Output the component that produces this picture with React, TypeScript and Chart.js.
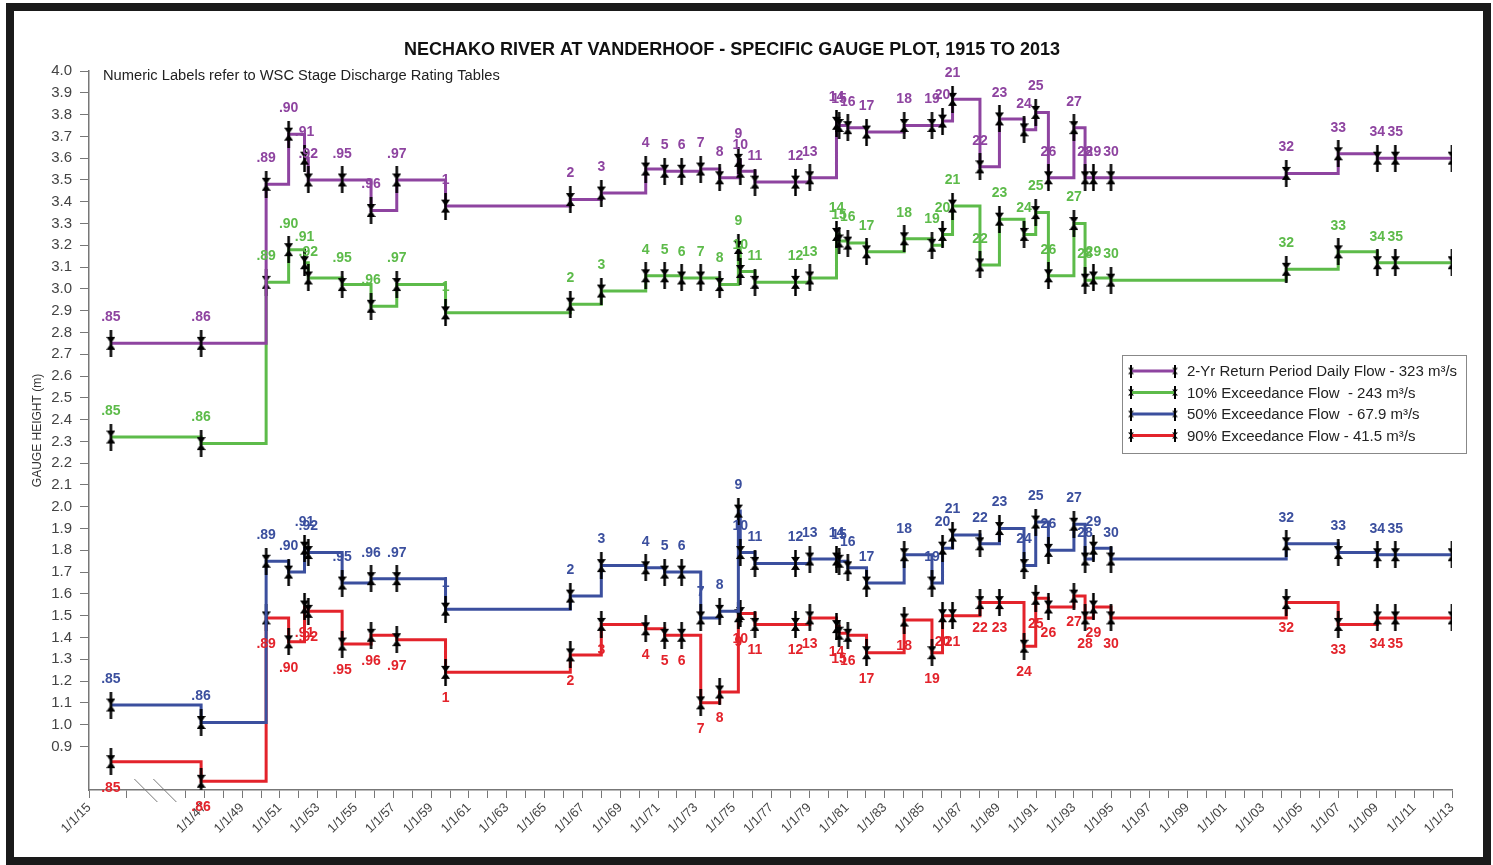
import React, { useEffect, useRef } from 'react';
import { Chart, registerables } from 'chart.js';

Chart.register(...registerables);

const chartTitle = 'NECHAKO RIVER AT VANDERHOOF - SPECIFIC GAUGE PLOT, 1915 TO 2013';
const noteText = 'Numeric Labels refer to WSC Stage Discharge Rating Tables';
const yAxisTitle = 'GAUGE HEIGHT (m)';

// WSC rating table numbers (point labels)
const ratingTables = [
  '.85', '.86', '.89', '.90', '.91', '.92', '.95', '.96', '.97', '1',
  '2', '3', '4', '5', '6', '7', '8', '9', '10', '11',
  '12', '13', '14', '15', '16', '17', '18', '19', '20', '21',
  '22', '23', '24', '25', '26', '27', '28', '29', '30', '32',
  '33', '34', '35', '',
];

// Date (decimal year) at which each rating table takes effect
const tableYears = [
  1916.16, 1946.83, 1950.27, 1951.46, 1952.3, 1952.5, 1954.29, 1955.82, 1957.18, 1959.76,
  1966.36, 1968.0, 1970.35, 1971.35, 1972.25, 1973.26, 1974.26, 1975.25, 1975.35, 1976.13,
  1978.27, 1979.03, 1980.44, 1980.58, 1981.04, 1982.03, 1984.02, 1985.49, 1986.05, 1986.58,
  1988.03, 1989.06, 1990.36, 1990.98, 1991.65, 1993.0, 1993.59, 1994.03, 1994.96, 2004.23,
  2006.98, 2009.05, 2010.0, 2013.0,
];

const twoYearFlow = [
  2.75, 2.75, 3.48, 3.71, 3.60, 3.50, 3.50, 3.36, 3.50, 3.38,
  3.41, 3.44, 3.55, 3.54, 3.54, 3.55, 3.51, 3.59, 3.54, 3.49,
  3.49, 3.51, 3.76, 3.75, 3.74, 3.72, 3.75, 3.75, 3.77, 3.87,
  3.56, 3.78, 3.73, 3.81, 3.51, 3.74, 3.51, 3.51, 3.51, 3.53,
  3.62, 3.60, 3.60, 3.60,
];

const exceed10Flow = [
  2.32, 2.29, 3.03, 3.18, 3.12, 3.05, 3.02, 2.92, 3.02, 2.89,
  2.93, 2.99, 3.06, 3.06, 3.05, 3.05, 3.02, 3.19, 3.08, 3.03,
  3.03, 3.05, 3.25, 3.22, 3.21, 3.17, 3.23, 3.20, 3.25, 3.38,
  3.11, 3.32, 3.25, 3.35, 3.06, 3.30, 3.04, 3.05, 3.04, 3.09,
  3.17, 3.12, 3.12, 3.12,
];

const exceed50Flow = [
  1.09, 1.01, 1.75, 1.70, 1.81, 1.79, 1.65, 1.67, 1.67, 1.53,
  1.59, 1.73, 1.72, 1.70, 1.70, 1.49, 1.52, 1.98, 1.79, 1.74,
  1.74, 1.76, 1.76, 1.75, 1.72, 1.65, 1.78, 1.65, 1.81, 1.87,
  1.83, 1.90, 1.73, 1.93, 1.80, 1.92, 1.76, 1.81, 1.76, 1.83,
  1.79, 1.78, 1.78, 1.78,
];

const exceed90Flow = [
  0.83, 0.74, 1.49, 1.38, 1.54, 1.52, 1.37, 1.41, 1.39, 1.24,
  1.32, 1.46, 1.44, 1.41, 1.41, 1.10, 1.15, 1.50, 1.51, 1.46,
  1.46, 1.49, 1.45, 1.42, 1.41, 1.33, 1.48, 1.33, 1.50, 1.50,
  1.56, 1.56, 1.36, 1.58, 1.54, 1.59, 1.49, 1.54, 1.49, 1.56,
  1.46, 1.49, 1.49, 1.49,
];

const seriesNames = [
  '2-Yr Return Period Daily Flow - 323 m\u00B3/s',
  '10% Exceedance Flow  - 243 m\u00B3/s',
  '50% Exceedance Flow  - 67.9 m\u00B3/s',
  '90% Exceedance Flow - 41.5 m\u00B3/s',
];
const seriesColors = ['#8E44A0', '#5DBB4A', '#3B4F9E', '#E3232B'];

// x-axis tick years: labelled and unlabelled
const labeledTickYears = [
  1915, 1947, 1949, 1951, 1953, 1955, 1957, 1959, 1961, 1963, 1965, 1967, 1969, 1971,
  1973, 1975, 1977, 1979, 1981, 1983, 1985, 1987, 1989, 1991, 1993, 1995, 1997, 1999,
  2001, 2003, 2005, 2007, 2009, 2011, 2013,
];
const minorTickYears = [
  1917, 1946, 1948, 1950, 1952, 1954, 1956, 1958, 1960, 1962, 1964, 1966, 1968, 1970,
  1972, 1974, 1976, 1978, 1980, 1982, 1984, 1986, 1988, 1990, 1992, 1994, 1996, 1998,
  2000, 2002, 2004, 2006, 2008, 2010, 2012,
];
const yTickValues = [
  0.7, 0.8, 0.9, 1.0, 1.1, 1.2, 1.3, 1.4, 1.5, 1.6, 1.7, 1.8, 1.9, 2.0, 2.1, 2.2, 2.3,
  2.4, 2.5, 2.6, 2.7, 2.8, 2.9, 3.0, 3.1, 3.2, 3.3, 3.4, 3.5, 3.6, 3.7, 3.8, 3.9, 4.0,
];
const yLabelMin = 0.9;

// broken time axis: years before the break are shifted next to 1946
const EARLY_SHIFT = 25.9;
const toAxis = (yr: number) => (yr < 1940 ? yr + EARLY_SHIFT : yr);
const FONT = '"Liberation Sans", Arial, sans-serif';

function makeMarker(w: number, h: number) {
  const c = document.createElement('canvas');
  c.width = w;
  c.height = h;
  const g = c.getContext('2d')!;
  const cx = w / 2;
  const cy = h / 2;
  g.strokeStyle = '#000';
  g.fillStyle = '#000';
  g.lineWidth = Math.max(2, w * 0.28);
  g.beginPath();
  g.moveTo(cx, 0);
  g.lineTo(cx, h);
  g.stroke();
  const tw = w / 2;
  const th = h * 0.24;
  g.beginPath();
  g.moveTo(cx - tw, cy - th);
  g.lineTo(cx + tw, cy - th);
  g.lineTo(cx, cy);
  g.closePath();
  g.fill();
  g.beginPath();
  g.moveTo(cx - tw, cy + th);
  g.lineTo(cx + tw, cy + th);
  g.lineTo(cx, cy);
  g.closePath();
  g.fill();
  return c;
}

export default function App() {
  const ref = useRef<HTMLCanvasElement>(null);

  useEffect(() => {
    const canvas = ref.current!;
    const marker = makeMarker(9, 27);
    const smallMarker = makeMarker(6, 13);
    const seriesValues = [twoYearFlow, exceed10Flow, exceed50Flow, exceed90Flow];

    const tickLabelMap = new Map<number, string>();
    labeledTickYears.forEach((yr) => {
      tickLabelMap.set(
        Math.round(toAxis(yr) * 100),
        '1/1/' + String(yr % 100).padStart(2, '0')
      );
    });
    const allTicks = [...labeledTickYears, ...minorTickYears]
      .map(toAxis)
      .sort((a, b) => a - b);

    const datasets = seriesValues.map((vals, i) => ({
      label: seriesNames[i],
      data: tableYears.map((yr, j) => ({ x: toAxis(yr), y: vals[j] })),
      borderColor: seriesColors[i],
      backgroundColor: seriesColors[i],
      borderWidth: 3,
      stepped: true as const,
      pointStyle: marker,
      pointRadius: 5,
      fill: false,
    }));

    const decor = {
      id: 'decor',
      afterDatasetsDraw(chart: any) {
        const ctx = chart.ctx as CanvasRenderingContext2D;
        ctx.save();
        ctx.font = `bold 14px ${FONT}`;
        ctx.textAlign = 'center';
        ctx.textBaseline = 'middle';
        chart.data.datasets.forEach((ds: any, i: number) => {
          const meta = chart.getDatasetMeta(i);
          ctx.fillStyle = seriesColors[i];
          meta.data.forEach((pt: any, j: number) => {
            const txt = ratingTables[j];
            if (!txt) return;
            const dy = i === 3 ? 26 : -26;
            ctx.fillText(txt, pt.x, pt.y + dy);
          });
        });
        ctx.restore();
      },
      afterDraw(chart: any) {
        const ctx = chart.ctx as CanvasRenderingContext2D;
        const xs = chart.scales.x;
        const area = chart.chartArea;
        ctx.save();
        // title
        ctx.fillStyle = '#111';
        ctx.font = `bold 18px ${FONT}`;
        ctx.textAlign = 'center';
        ctx.textBaseline = 'middle';
        ctx.fillText(chartTitle, 732, 50);
        // note
        ctx.font = `14.7px ${FONT}`;
        ctx.textAlign = 'left';
        ctx.fillStyle = '#222';
        ctx.fillText(noteText, 103, 76);
        // y title
        ctx.save();
        ctx.translate(38, (area.top + area.bottom) / 2);
        ctx.rotate(-Math.PI / 2);
        ctx.textAlign = 'center';
        ctx.font = `12px ${FONT}`;
        ctx.fillStyle = '#333';
        ctx.fillText(yAxisTitle, 0, 0);
        ctx.restore();
        // axis break marks
        ctx.strokeStyle = '#777';
        ctx.lineWidth = 1;
        const bx = xs.getPixelForValue(toAxis(1917.4));
        [0, 19].forEach((off) => {
          ctx.beginPath();
          ctx.moveTo(bx + off, area.bottom - 11);
          ctx.lineTo(bx + off + 23, area.bottom + 12);
          ctx.stroke();
        });
        // legend
        const lx = 1122;
        const ly = 355;
        ctx.fillStyle = '#fff';
        ctx.fillRect(lx, ly, 344, 98);
        ctx.strokeStyle = '#888';
        ctx.lineWidth = 1;
        ctx.strokeRect(lx + 0.5, ly + 0.5, 344, 98);
        ctx.font = `15px ${FONT}`;
        ctx.textBaseline = 'middle';
        ctx.textAlign = 'left';
        seriesNames.forEach((name, i) => {
          const y = ly + 16 + i * 21.5;
          ctx.strokeStyle = seriesColors[i];
          ctx.lineWidth = 3;
          ctx.beginPath();
          ctx.moveTo(lx + 9, y);
          ctx.lineTo(lx + 53, y);
          ctx.stroke();
          ctx.drawImage(smallMarker, lx + 9 - 3, y - 6.5);
          ctx.drawImage(smallMarker, lx + 53 - 3, y - 6.5);
          ctx.fillStyle = '#222';
          ctx.fillText(name, lx + 65, y + 1);
        });
        ctx.restore();
      },
    };

    const chart = new Chart(canvas, {
      type: 'line',
      data: { datasets },
      options: {
        animation: false,
        responsive: false,
        events: [],
        layout: { padding: { top: 71, left: 0, right: 41, bottom: 0 } },
        plugins: {
          legend: { display: false },
          tooltip: { enabled: false },
          title: { display: false },
        },
        scales: {
          x: {
            type: 'linear',
            min: toAxis(1915),
            max: 2013,
            afterBuildTicks: (s: any) => {
              s.ticks = allTicks.map((v) => ({ value: v }));
            },
            afterFit: (s: any) => {
              s.height = 75;
            },
            ticks: {
              autoSkip: false,
              minRotation: 45,
              maxRotation: 45,
              padding: 2,
              color: '#444',
              font: { family: FONT, size: 13 },
              callback: (v: any) => tickLabelMap.get(Math.round(Number(v) * 100)) || '',
            },
            grid: { drawOnChartArea: false, drawTicks: true, tickLength: 8, color: '#777' },
            border: { color: '#777', width: 1.5 },
          },
          y: {
            type: 'linear',
            min: 0.7,
            max: 4.0,
            afterBuildTicks: (s: any) => {
              s.ticks = yTickValues.map((v) => ({ value: v }));
            },
            afterFit: (s: any) => {
              s.width = 89;
            },
            ticks: {
              autoSkip: false,
              padding: 8,
              color: '#444',
              font: { family: FONT, size: 15 },
              callback: (v: any) => (Number(v) >= yLabelMin - 0.01 ? Number(v).toFixed(1) : ''),
            },
            grid: {
              drawOnChartArea: false,
              tickLength: 9,
              color: (c: any) =>
                c.tick && c.tick.value < yLabelMin - 0.01 ? 'rgba(0,0,0,0)' : '#777',
            },
            border: { color: '#777', width: 1.5 },
          },
        },
      },
      plugins: [decor],
    } as any);

    return () => chart.destroy();
  }, []);

  return (
    <div
      style={{
        position: 'absolute',
        left: 0,
        top: 0,
        width: 1493,
        height: 865,
        background: '#fff',
        overflow: 'hidden',
      }}
    >
      <canvas
        ref={ref}
        width={1493}
        height={865}
        style={{ position: 'absolute', left: 0, top: 0, width: 1493, height: 865 }}
      />
      <div
        style={{
          position: 'absolute',
          left: 6,
          top: 3,
          width: 1485,
          height: 862,
          boxSizing: 'border-box',
          border: '8px solid #1a1a1a',
          pointerEvents: 'none',
        }}
      />
    </div>
  );
}
